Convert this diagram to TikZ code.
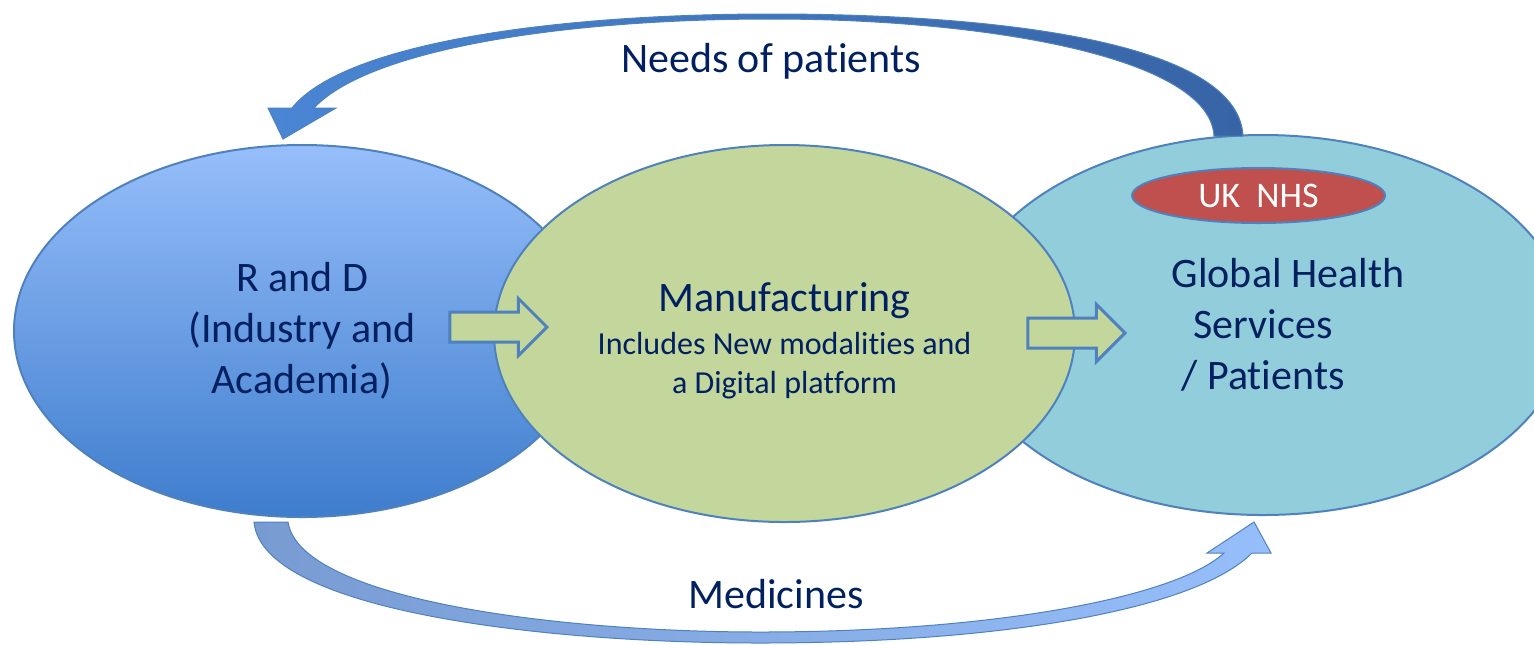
\documentclass[tikz,border=0pt]{standalone}
\usepackage{fontspec}
\setmainfont{Carlito}[Ligatures=NoCommon]
\usetikzlibrary{shapes.geometric,shapes.arrows,calc}

\newlength{\du}
\setlength{\du}{0.5pt}

\definecolor{textnavy}{rgb}{0.000000, 0.125490, 0.376471}
\definecolor{edgeblue}{rgb}{0.309804, 0.505882, 0.741176}
\definecolor{rdtop}{rgb}{0.588235, 0.745098, 0.980392}
\definecolor{rdbottom}{rgb}{0.243137, 0.490196, 0.803922}
\definecolor{mfgfill}{rgb}{0.764706, 0.839216, 0.607843}
\definecolor{ghsfill}{rgb}{0.572549, 0.803922, 0.862745}
\definecolor{nhsfill}{rgb}{0.752941, 0.313725, 0.301961}
\definecolor{needsleft}{rgb}{0.290196, 0.525490, 0.831373}
\definecolor{needsright}{rgb}{0.215686, 0.392157, 0.647059}
\definecolor{medsleft}{rgb}{0.470588, 0.607843, 0.823529}
\definecolor{medsmid}{rgb}{0.266667, 0.454902, 0.768627}
\definecolor{medsright}{rgb}{0.588235, 0.745098, 0.980392}

\tikzset{
  bubble/.style={ellipse, draw=edgeblue, line width=2\du, text=textnavy,
    align=center, font=\fontsize{21}{25.5}\selectfont},
  nhs/.style={ellipse, draw=edgeblue, line width=2\du, fill=nhsfill, text=white,
    inner sep=0pt, minimum width=253\du, minimum height=55\du,
    font=\fontsize{18}{21}\selectfont},
  blockarrow/.style={single arrow, draw=edgeblue, line width=3\du, fill=mfgfill,
    inner xsep=0pt, inner ysep=13.5\du, minimum height=97\du,
    single arrow head extend=13.5\du, single arrow tip angle=90},
  bigarrow/.style={draw=edgeblue, line width=1\du},
  labeltext/.style={text=textnavy, font=\fontsize{21}{25.5}\selectfont}
}

\begin{document}
\begin{tikzpicture}
\pgftransformyscale{-1.000000}
\useasboundingbox (0\du,0\du) rectangle (1534\du,644\du);

% the three stages
\node[bubble, top color=rdtop, bottom color=rdbottom,
  minimum width=576\du, minimum height=372\du] (rd) at (302\du,331\du)
  {R and D\\(Industry and\\Academia)};
\node[bubble, fill=ghsfill, minimum width=608\du, minimum height=380\du] (ghs)
  at (1263\du,325\du) {\hspace*{50\du}Global Health\\Services\\/ Patients};
\node[bubble, fill=mfgfill, minimum width=581\du, minimum height=377\du] (mfg)
  at (784.5\du,333.5\du) {};
\node[labeltext, align=center, font=\fontsize{16}{19.5}\selectfont] (mfgText)
  at ($(mfg.center)+(0\du,7\du)$)
  {{\fontsize{21}{25}\selectfont Manufacturing}\\[2pt]
   Includes New modalities and\\a Digital platform};

% block arrows between the stages
\node[blockarrow, anchor=tip] (rdToMfg) at (549\du,327\du) {};
\node[blockarrow, anchor=tip] (mfgToGhs) at (1127\du,333\du) {};

\node[nhs] (ukNhs) at (1258.5\du,195.5\du) {UK\ \ NHS};

% feedback: needs of patients
\path[bigarrow, left color=needsleft, right color=needsright]
  ($(ghs.north)+(-20\du,2\du)$)
  .. controls (1238\du,40\du) and (990\du,14\du) .. (771\du,14\du)
  .. controls (560\du,14\du) and (345\du,42\du) .. (292\du,108\du)
  -- (268\du,108\du) -- ($(rd.north)+(-19\du,-5\du)$) -- (336\du,108\du)
  -- (314\du,108\du)
  .. controls (368\du,50\du) and (560\du,19\du) .. (771\du,19\du)
  .. controls (990\du,19\du) and (1210\du,58\du) .. ($(ghs.north)+(-49\du,2\du)$)
  -- cycle;

% supply: medicines
\path[bigarrow, left color=medsleft, middle color=medsmid, right color=medsright]
  ($(rd.south)+(-48\du,4\du)$)
  .. controls (262\du,610\du) and (540\du,643\du) .. (760\du,643\du)
  .. controls (1000\du,643\du) and (1195\du,610\du) .. (1252\du,553\du)
  -- (1271\du,553\du) -- ($(ghs.south)+(-9\du,6\du)$) -- (1207\du,553\du)
  -- (1224\du,553\du)
  .. controls (1175\du,598\du) and (990\du,632\du) .. (760\du,632\du)
  .. controls (560\du,632\du) and (300\du,600\du) .. ($(rd.south)+(-14\du,4\du)$)
  -- cycle;

\node[labeltext] (needs) at (771\du,61\du) {Needs of patients};
\node[labeltext] (meds) at (776\du,594\du) {Medicines};
\end{tikzpicture}
\end{document}
